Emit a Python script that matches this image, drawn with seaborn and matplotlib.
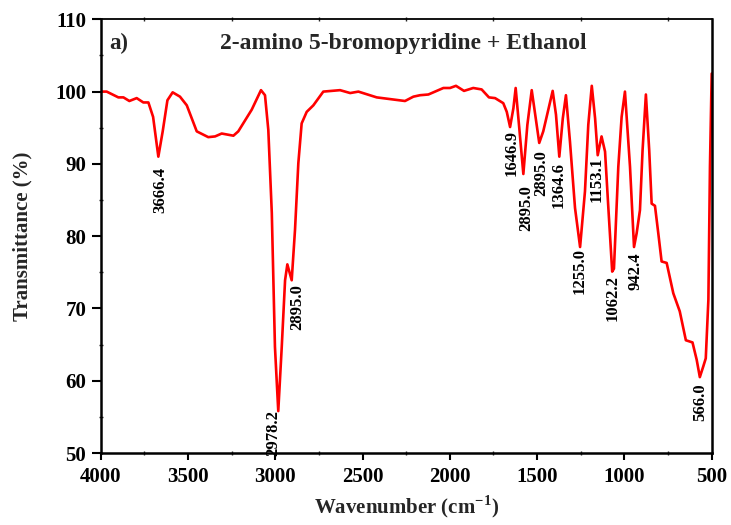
import numpy as np
import pandas as pd
import matplotlib
matplotlib.use("Agg")
import matplotlib.pyplot as plt
import seaborn as sns
from matplotlib.ticker import MultipleLocator

# ---- data ----
wavenumber = [4000, 3966, 3899, 3870, 3836, 3794, 3756, 3727, 3700, 3670, 3645, 3618, 3588,
              3546, 3507, 3450, 3384, 3345, 3307, 3240, 3212, 3135, 3082, 3059, 3040, 3020,
              3002, 2983, 2963, 2944, 2931, 2906, 2887, 2868, 2849, 2820, 2782, 2725, 2629,
              2571, 2524, 2419, 2257, 2209, 2171, 2123, 2037, 1999, 1965, 1919, 1866, 1818,
              1776, 1741, 1694, 1674, 1655, 1636, 1623, 1604, 1579, 1556, 1531, 1508, 1488,
              1465, 1436, 1411, 1392, 1373, 1353, 1335, 1312, 1283, 1254, 1226, 1207, 1187,
              1168, 1153, 1131, 1111, 1092, 1070, 1060, 1035, 1016, 997, 968, 945, 930, 911,
              896, 877, 858, 844, 825, 806, 787, 758, 720, 683, 648, 610, 586, 568, 548, 534,
              519, 510, 500]
transmittance = [100.0, 100.0, 99.2, 99.2, 98.7, 99.1, 98.5, 98.5, 96.5, 91.0, 94.5, 98.8, 99.9,
                 99.3, 98.1, 94.5, 93.7, 93.8, 94.2, 93.9, 94.5, 97.5, 100.2, 99.5, 94.7, 83.2,
                 64.7, 55.8, 64.7, 73.9, 76.1, 73.9, 80.9, 90.1, 95.6, 97.2, 98.1, 100.0, 100.2,
                 99.8, 100.0, 99.2, 98.7, 99.3, 99.5, 99.6, 100.5, 100.5, 100.8, 100.1, 100.5, 100.3,
                 99.2, 99.1, 98.4, 97.2, 95.1, 97.7, 100.5, 95.4, 88.6, 95.4, 100.2, 96.3, 92.9,
                 94.5, 97.5, 100.1, 96.8, 91.0, 96.3, 99.5, 93.1, 83.9, 78.5, 86.2, 95.4, 100.8,
                 96.3, 91.2, 93.8, 91.7, 83.9, 75.1, 75.5, 89.6, 96.5, 100.0, 89.6, 78.5, 80.4, 83.6,
                 91.9, 99.6, 91.9, 84.5, 84.2, 80.4, 76.5, 76.3, 72.1, 69.6, 65.6, 65.3, 62.9, 60.5,
                 62.0, 63.1, 71.2, 89.6, 102.5]

peak_labels = ["3666.4", "2978.2", "2895.0", "1646.9", "2895.0", "2895.0", "1364.6",
               "1153.1", "1255.0", "1062.2", "942.4", "566.0"]
label_x = [3660, 3011, 2877, 1646, 1560, 1474, 1379, 1159, 1254, 1067, 939, 567]
label_top = [89.6, 56.0, 73.3, 94.7, 87.1, 91.9, 90.3, 91.0, 78.4, 74.6, 77.7, 59.7]

x_ticks = [4000, 3500, 3000, 2500, 2000, 1500, 1000, 500]
y_ticks = [50, 60, 70, 80, 90, 100, 110]

df = pd.DataFrame({"Wavenumber": wavenumber, "Transmittance": transmittance})

sns.set_style("ticks")
plt.rcParams["font.family"] = ["Liberation Serif", "DejaVu Serif"]
plt.rcParams["font.weight"] = "bold"
plt.rcParams["mathtext.fontset"] = "custom"
plt.rcParams["mathtext.rm"] = "Liberation Serif:bold"
plt.rcParams["mathtext.bf"] = "Liberation Serif:bold"

fig = plt.figure(figsize=(7.31, 5.25), dpi=100)
ax = fig.add_axes([0.1378, 0.1371, 0.8358, 0.8261])

sns.lineplot(data=df, x="Wavenumber", y="Transmittance", sort=False, color="#ff0000",
             linewidth=1.9, ax=ax)

ax.set_xlim(4000, 500)
ax.set_ylim(50, 110)
ax.set_xticks(x_ticks)
ax.set_yticks(y_ticks)
ax.xaxis.set_minor_locator(MultipleLocator(250))
ax.yaxis.set_minor_locator(MultipleLocator(5))
ax.tick_params(axis="both", which="major", direction="out", width=1.5,
               labelsize=15, colors="black")
ax.tick_params(axis="y", which="major", length=6.5, pad=4)
ax.tick_params(axis="x", which="major", length=5, pad=5)
ax.tick_params(axis="both", which="minor", direction="inout", length=2.5, width=1.0)
ax.tick_params(axis="x", which="minor", top=True)
for lab in ax.get_xticklabels() + ax.get_yticklabels():
    lab.set_fontweight("bold")

for side in ["left", "bottom", "right"]:
    ax.spines[side].set_linewidth(1.8)
ax.spines["top"].set_linewidth(1.3)
for s in ax.spines.values():
    s.set_color("black")

ax.set_xlabel("Wavenumber (cm$^{-1}$)", fontsize=15, fontweight="bold", labelpad=5)
ax.set_ylabel("Transmittance (%)", fontsize=15, fontweight="bold", labelpad=16)

for txt, xv, yv in zip(peak_labels, label_x, label_top):
    ax.text(xv, yv, txt, rotation=90, ha="center", va="top", fontsize=12,
            fontweight="bold", color="black")

ax.text(0.014, 0.945, "a)", transform=ax.transAxes, ha="left", va="center",
        fontsize=16.5, fontweight="bold")
ax.text(0.496, 0.945, "2-amino 5-bromopyridine + Ethanol", transform=ax.transAxes,
        ha="center", va="center", fontsize=17, fontweight="bold")

fig.savefig("out.png", dpi=100)
